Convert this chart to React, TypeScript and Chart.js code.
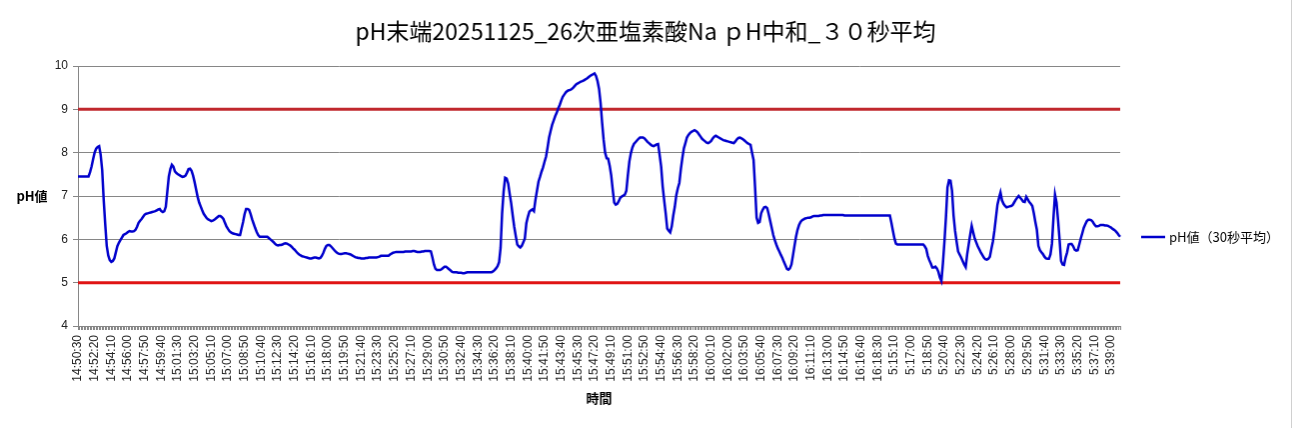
import React, { useEffect, useRef } from 'react';
import { Chart, registerables } from 'chart.js';

Chart.register(...registerables);

const TITLE = 'pH末端20251125_26次亜塩素酸Na ｐH中和_３０秒平均';
const SERIES_LABEL = 'pH値（30秒平均）';
const Y_TITLE = 'pH値';
const X_TITLE = '時間';

// Two recording sessions (10 s steps); categories are the measurement times
const SESSION_STARTS = ['14:50:30', '5:14:50'];
const SESSION_LENGTHS = [537, 152];
const LABEL_EVERY = 11;

const Y_MIN = 4;
const Y_MAX = 10;
const UPPER_LIMIT = 9;
const LOWER_LIMIT = 5;

// pH values (30 s moving average), one per category
const PH_VALUES = [
  7.45,7.45,7.45,7.45,7.45,7.45,7.45,7.45,7.55,7.68,
  7.85,8.0,8.09,8.13,8.15,7.95,7.6,6.91,6.35,5.85,
  5.63,5.52,5.48,5.5,5.56,5.7,5.84,5.92,5.98,6.04,
  6.1,6.12,6.14,6.17,6.19,6.18,6.18,6.19,6.22,6.29,
  6.38,6.43,6.47,6.52,6.57,6.59,6.6,6.61,6.62,6.63,
  6.64,6.65,6.67,6.69,6.7,6.65,6.63,6.65,6.75,7.1,
  7.45,7.62,7.72,7.68,7.57,7.53,7.5,7.48,7.46,7.44,
  7.45,7.47,7.54,7.62,7.63,7.58,7.47,7.32,7.15,6.98,
  6.85,6.76,6.67,6.59,6.54,6.49,6.46,6.44,6.42,6.43,
  6.45,6.48,6.51,6.54,6.54,6.51,6.47,6.38,6.3,6.24,
  6.19,6.16,6.14,6.13,6.12,6.11,6.1,6.1,6.25,6.4,
  6.58,6.7,6.7,6.68,6.58,6.46,6.36,6.26,6.17,6.1,
  6.06,6.06,6.06,6.06,6.06,6.06,6.03,6.0,5.97,5.94,
  5.9,5.87,5.86,5.87,5.87,5.88,5.9,5.91,5.9,5.88,
  5.86,5.83,5.79,5.76,5.72,5.68,5.65,5.63,5.61,5.6,
  5.59,5.58,5.57,5.56,5.56,5.57,5.58,5.58,5.57,5.56,
  5.57,5.62,5.69,5.78,5.85,5.87,5.87,5.84,5.8,5.76,
  5.72,5.69,5.67,5.66,5.66,5.67,5.68,5.68,5.67,5.66,
  5.65,5.63,5.61,5.59,5.58,5.57,5.57,5.56,5.56,5.56,
  5.57,5.57,5.58,5.58,5.58,5.58,5.58,5.58,5.59,5.6,
  5.62,5.62,5.62,5.62,5.62,5.62,5.65,5.67,5.69,5.7,
  5.71,5.71,5.71,5.71,5.71,5.71,5.72,5.72,5.72,5.72,
  5.72,5.73,5.73,5.72,5.71,5.71,5.71,5.72,5.72,5.73,
  5.73,5.73,5.73,5.72,5.58,5.42,5.32,5.29,5.29,5.29,
  5.31,5.34,5.37,5.37,5.34,5.31,5.28,5.25,5.24,5.24,
  5.24,5.23,5.23,5.23,5.22,5.22,5.23,5.24,5.24,5.24,
  5.24,5.24,5.24,5.24,5.24,5.24,5.24,5.24,5.24,5.24,
  5.24,5.24,5.24,5.24,5.26,5.29,5.33,5.38,5.47,5.8,
  6.6,7.1,7.42,7.4,7.29,7.05,6.83,6.55,6.29,6.08,
  5.88,5.84,5.81,5.85,5.93,6.02,6.37,6.52,6.64,6.67,
  6.69,6.65,6.91,7.12,7.33,7.44,7.56,7.66,7.79,7.91,
  8.12,8.35,8.5,8.64,8.74,8.84,8.92,9.02,9.1,9.2,
  9.29,9.34,9.39,9.42,9.44,9.45,9.47,9.5,9.54,9.58,
  9.6,9.62,9.64,9.65,9.67,9.69,9.71,9.74,9.77,9.79,
  9.81,9.83,9.77,9.65,9.47,9.15,8.7,8.3,8.0,7.87,
  7.86,7.7,7.48,7.15,6.85,6.8,6.82,6.88,6.96,6.99,
  7.01,7.03,7.12,7.48,7.8,7.99,8.12,8.2,8.24,8.28,
  8.32,8.35,8.35,8.35,8.33,8.29,8.25,8.22,8.19,8.16,
  8.15,8.17,8.19,8.2,7.95,7.68,7.22,6.9,6.6,6.25,
  6.2,6.16,6.3,6.55,6.75,7.02,7.18,7.3,7.62,7.88,
  8.1,8.22,8.35,8.41,8.45,8.48,8.5,8.52,8.5,8.47,
  8.42,8.37,8.32,8.29,8.26,8.23,8.22,8.24,8.27,8.33,
  8.37,8.39,8.37,8.35,8.33,8.31,8.29,8.28,8.27,8.26,
  8.25,8.24,8.23,8.22,8.26,8.31,8.34,8.35,8.33,8.31,
  8.28,8.25,8.22,8.2,8.18,8.0,7.83,7.2,6.5,6.38,
  6.4,6.6,6.68,6.74,6.75,6.72,6.58,6.42,6.26,6.1,
  5.98,5.88,5.79,5.72,5.64,5.57,5.48,5.4,5.32,5.3,
  5.33,5.42,5.63,5.85,6.06,6.22,6.33,6.4,6.44,6.46,
  6.48,6.49,6.5,6.5,6.51,6.53,6.54,6.54,6.54,6.54,
  6.55,6.55,6.56,6.56,6.56,6.56,6.56,6.56,6.56,6.56,
  6.56,6.56,6.56,6.56,6.56,6.56,6.55,6.55,6.55,6.55,
  6.55,6.55,6.55,6.55,6.55,6.55,6.55,6.55,6.55,6.55,
  6.55,6.55,6.55,6.55,6.55,6.55,6.55,6.55,6.55,6.55,
  6.55,6.55,6.55,6.55,6.55,6.55,6.55,6.38,6.2,6.02,
  5.9,5.88,5.88,5.88,5.88,5.88,5.88,5.88,5.88,5.88,
  5.88,5.88,5.88,5.88,5.88,5.88,5.88,5.88,5.88,5.84,
  5.78,5.62,5.52,5.44,5.35,5.35,5.37,5.33,5.25,5.12,
  5.04,5.45,5.95,6.52,7.2,7.36,7.35,7.12,6.55,6.2,
  5.95,5.72,5.65,5.58,5.5,5.42,5.36,5.65,5.88,6.1,
  6.31,6.16,6.02,5.93,5.84,5.77,5.7,5.64,5.58,5.54,
  5.53,5.55,5.6,5.78,5.95,6.2,6.5,6.8,6.95,7.08,
  6.9,6.82,6.77,6.74,6.75,6.76,6.77,6.79,6.85,6.91,
  6.96,7.0,6.96,6.92,6.87,6.86,6.98,6.92,6.86,6.82,
  6.77,6.6,6.4,6.22,5.85,5.75,5.7,5.66,5.6,5.56,
  5.55,5.55,5.65,5.9,6.5,7.03,6.85,6.45,6.0,5.5,
  5.42,5.41,5.58,5.7,5.88,5.89,5.89,5.84,5.76,5.74,
  5.75,5.88,6.02,6.14,6.27,6.35,6.42,6.45,6.45,6.44,
  6.4,6.34,6.3,6.3,6.31,6.33,6.33,6.33,6.32,6.32,
  6.31,6.29,6.27,6.24,6.22,6.19,6.15,6.1,6.06,
];

const BLUE = '#0000CC';
const AXIS_GRAY = '#868686';

function toSeconds(t: string): number {
  const [h, m, s] = t.split(':').map(Number);
  return h * 3600 + m * 60 + s;
}
function fmtTime(sec: number): string {
  const h = Math.floor(sec / 3600) % 24;
  const m = Math.floor((sec % 3600) / 60);
  const s = sec % 60;
  return `${h}:${String(m).padStart(2, '0')}:${String(s).padStart(2, '0')}`;
}
function buildCategories(): string[] {
  const out: string[] = [];
  SESSION_STARTS.forEach((start, k) => {
    const base = toSeconds(start);
    for (let i = 0; i < SESSION_LENGTHS[k]; i++) out.push(fmtTime(base + i * 10));
  });
  return out;
}

const overlayPlugin = {
  id: 'overlay',
  afterDraw(chart: any) {
    const { ctx, chartArea } = chart;
    ctx.save();
    // chart title
    ctx.fillStyle = '#000';
    ctx.font = '23px "Noto Sans CJK JP"';
    ctx.textAlign = 'center';
    ctx.textBaseline = 'middle';
    ctx.fillText(TITLE, 646, 31);
    // y-axis title (horizontal, as in the original)
    ctx.font = 'bold 13px "Noto Sans CJK JP"';
    ctx.fillText(Y_TITLE, 32, (chartArea.top + chartArea.bottom) / 2);
    // legend
    const ds = chart.data.datasets[0];
    const ly = 237;
    ctx.strokeStyle = ds.borderColor;
    ctx.lineWidth = 2.5;
    ctx.beginPath();
    ctx.moveTo(1142, ly);
    ctx.lineTo(1166, ly);
    ctx.stroke();
    ctx.font = '13px "Noto Sans CJK JP"';
    ctx.textAlign = 'left';
    ctx.fillStyle = '#000';
    ctx.fillText(ds.label, 1170, ly);
    ctx.restore();
  },
};

export default function App() {
  const canvasRef = useRef<HTMLCanvasElement | null>(null);

  useEffect(() => {
    const canvas = canvasRef.current;
    if (!canvas) return;
    const labels = buildCategories();
    const chart = new Chart(canvas, {
      type: 'line',
      data: {
        labels,
        datasets: [
          {
            label: SERIES_LABEL,
            data: PH_VALUES,
            borderColor: BLUE,
            backgroundColor: BLUE,
            borderWidth: 2.5,
            pointRadius: 0,
            tension: 0,
            fill: false,
          },
          {
            label: 'upper',
            data: labels.map(() => UPPER_LIMIT),
            borderColor: '#C0272D',
            borderWidth: 3,
            pointRadius: 0,
            fill: false,
          },
          {
            label: 'lower',
            data: labels.map(() => LOWER_LIMIT),
            borderColor: '#E01414',
            borderWidth: 3,
            pointRadius: 0,
            fill: false,
          },
        ],
      },
      options: {
        animation: false,
        responsive: false,
        layout: { padding: { left: 0, right: 171, top: 66, bottom: 0 } },
        plugins: {
          legend: { display: false },
          tooltip: { enabled: false },
          title: { display: false },
        },
        scales: {
          x: {
            type: 'category',
            offset: false,
            grid: { display: true, drawOnChartArea: false, drawTicks: true, tickLength: 4, color: AXIS_GRAY },
            border: { display: true, color: AXIS_GRAY },
            ticks: {
              autoSkip: false,
              minRotation: 90,
              maxRotation: 90,
              padding: 5,
              color: '#222',
              font: { family: '"Liberation Sans"', size: 12 },
              callback: (_v: any, i: number) => (i % LABEL_EVERY === 0 ? labels[i] : ''),
            },
            title: {
              display: true,
              text: X_TITLE,
              color: '#000',
              font: { family: '"Noto Sans CJK JP"', size: 13, weight: 'bold' },
              padding: { top: 0, bottom: 22 },
            },
            afterFit: (s: any) => { s.height = 102; },
          },
          y: {
            min: Y_MIN,
            max: Y_MAX,
            ticks: { stepSize: 1, color: '#222', padding: 5, font: { family: '"Liberation Sans"', size: 12 } },
            grid: { color: AXIS_GRAY, tickLength: 5 },
            border: { display: true, color: AXIS_GRAY },
            afterFit: (s: any) => { s.width = 78; },
          },
        },
      },
      plugins: [overlayPlugin],
    });
    return () => chart.destroy();
  }, []);

  return (
    <div style={{ position: 'absolute', left: 0, top: 0, width: 1294, height: 428, background: '#fff' }}>
      <canvas ref={canvasRef} width={1292} height={428} style={{ display: 'block', borderRight: '1px solid #d0d0d0' }} />
    </div>
  );
}
